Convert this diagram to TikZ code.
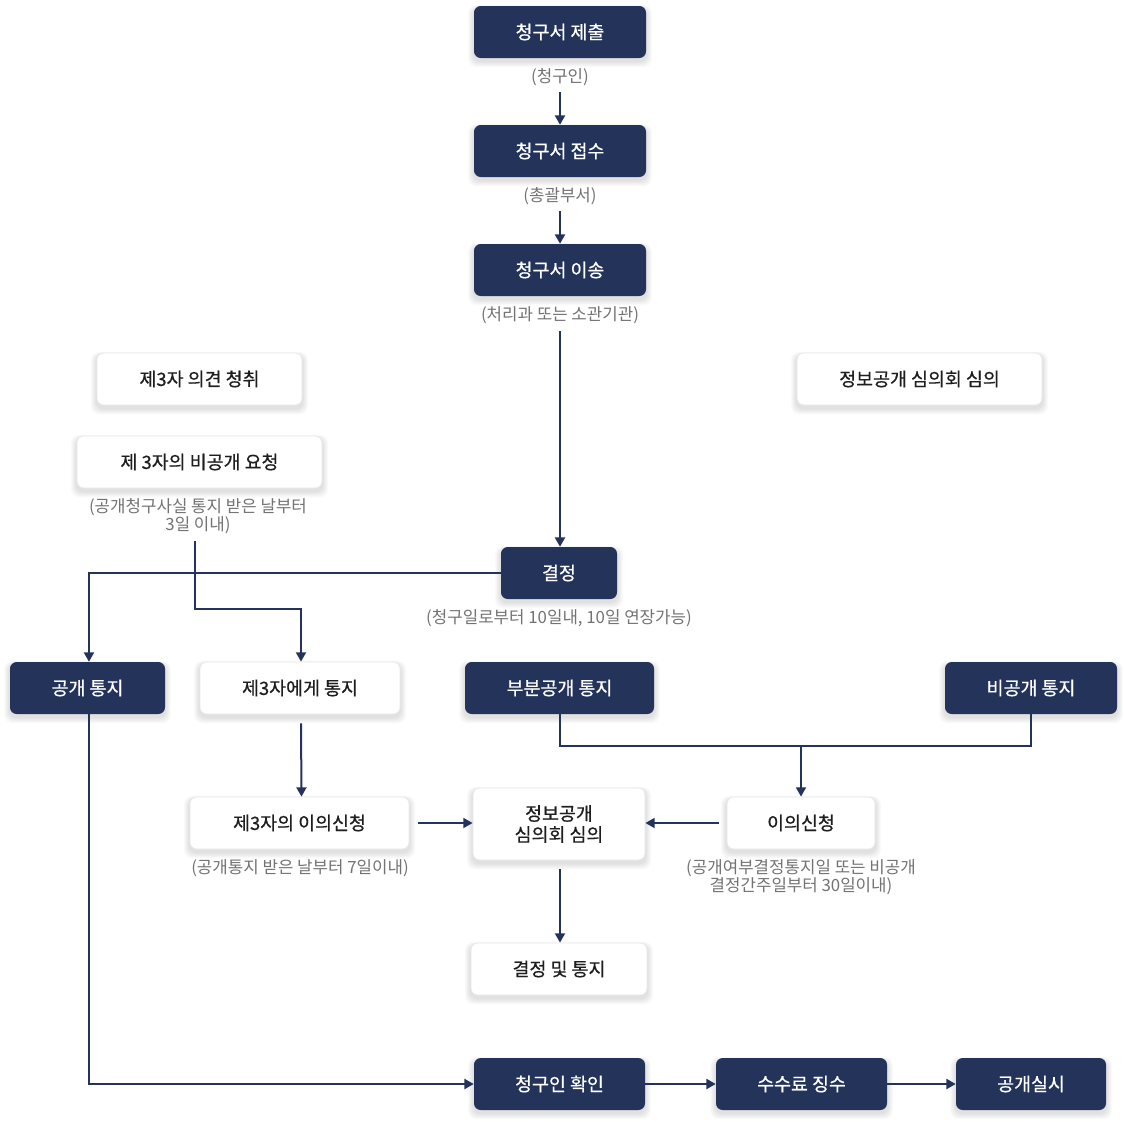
\documentclass[tikz,border=0pt]{standalone}
\usepackage{fontspec}
\setmainfont{Noto Sans CJK KR}
\newfontfamily\medfont{Noto Sans CJK KR}[FakeBold=0.5]
\usetikzlibrary{arrows.meta,calc,backgrounds}
\definecolor{navy}{RGB}{35,51,90}
\definecolor{lbl}{RGB}{115,115,115}
\definecolor{bord}{RGB}{232,232,232}
\definecolor{txt}{RGB}{30,30,30}
\tikzset{
  boxbase/.style={rectangle, rounded corners=5pt, inner sep=0pt, minimum height={52*0.75pt},
    font=\medfont\fontsize{13.8pt}{16pt}\selectfont, align=center},
  dark/.style={boxbase, fill=navy, text=white},
  light/.style={boxbase, fill=white, draw=bord, line width=0.6pt, text=txt},
  note/.style={inner sep=0pt, text=lbl, font=\fontsize{12.6pt}{12.75pt}\selectfont, align=center},
  arr/.style={draw=navy, line width=1.5pt, -{Triangle[width=7.5pt,length=7pt]}},
  ln/.style={draw=navy, line width=1.5pt},
  shad/.style={fill=black, opacity=0.019, rounded corners=6pt},
}
\begin{document}
\begin{tikzpicture}[x=0.75pt,y=-0.75pt]
\useasboundingbox (0,0) rectangle (1127,1125);
% nodes
\node[dark, minimum width={172*0.75pt}] (sub) at (560,32) {청구서 제출};
\node[note] (l1) at (560,77) {(청구인)};
\node[dark, minimum width={172*0.75pt}] (recv) at (560,151) {청구서 접수};
\node[note] (l2) at (560,196) {(총괄부서)};
\node[dark, minimum width={172*0.75pt}] (xfer) at (560,270) {청구서 이송};
\node[note] (l3) at (560,315) {(처리과 또는 소관기관)};
\node[light, minimum width={205*0.75pt}] (opin) at (199.5,379) {제3자 의견 청취};
\node[light, minimum width={245*0.75pt}] (req) at (199.5,462) {제 3자의 비공개 요청};
\node[note] (l5) at (198,516) {(공개청구사실 통지 받은 날부터\\3일 이내)};
\node[light, minimum width={245*0.75pt}] (rev) at (919.5,379) {정보공개 심의회 심의};
\node[dark, minimum width={116*0.75pt}] (dec) at (559,573) {결정};
\node[note] (l4) at (559,618) {(청구일로부터 10일내, 10일 연장가능)};
\node[dark, minimum width={155*0.75pt}] (open) at (87.5,688) {공개 통지};
\node[light, minimum width={200*0.75pt}] (third) at (300,688) {제3자에게 통지};
\node[dark, minimum width={189*0.75pt}] (part) at (559.5,688) {부분공개 통지};
\node[dark, minimum width={172*0.75pt}] (closed) at (1031,688) {비공개 통지};
\node[light, minimum width={219*0.75pt}] (tobj) at (299.5,823) {제3자의 이의신청};
\node[note] (l6) at (300,868) {(공개통지 받은 날부터 7일이내)};
\node[light, minimum width={172*0.75pt}, minimum height={72*0.75pt}, font=\medfont\fontsize{13.8pt}{15.75pt}\selectfont] (comm) at (559,824) {정보공개\\심의회 심의};
\node[light, minimum width={148*0.75pt}] (obj) at (801,823) {이의신청};
\node[note] (l7) at (801,877) {(공개여부결정통지일 또는 비공개\\결정간주일부터 30일이내)};
\node[light, minimum width={176*0.75pt}] (final) at (559,969) {결정 및 통지};
\node[dark, minimum width={171*0.75pt}] (conf) at (559.5,1084) {청구인 확인};
\node[dark, minimum width={171*0.75pt}] (fee) at (801.5,1084) {수수료 징수};
\node[dark, minimum width={150*0.75pt}] (exec) at (1031,1084) {공개실시};
\coordinate (jn) at (801,746);
% background and soft shadows
\begin{scope}[on background layer]
\fill[white] (0,0) rectangle (1127,1125);
\foreach \n in {sub,recv,xfer,opin,req,rev,dec,open,third,part,closed,tobj,comm,obj,final,conf,fee,exec}{
  \foreach \k in {1,...,6}{
    \fill[shad] ([shift={(-\k*0.7pt,-2.2pt-\k*0.75pt)}]\n.south west) rectangle ([shift={(\k*0.7pt,-2.2pt+\k*0.45pt)}]\n.north east);
  }
}
\end{scope}
% connectors
\draw[arr] ([yshift=-4.5pt]l1.south) -- (recv.north);
\draw[arr] ([yshift=-4.5pt]l2.south) -- (recv.north |- xfer.north);
\draw[arr] ([yshift=-5.5pt]l3.south) -- (l3.south |- dec.north);
\draw[arr] (dec.west) -| ([xshift=1.1pt]open.north);
\draw[arr] ([shift={(-3,7)}]l5.south) |- ($(third.north)+(1,-53)$) -- ([xshift=0.75pt]third.north);
\draw[arr] ([shift={(1,9)}]third.south) -- ([xshift=1.5pt]tobj.north);
\draw[ln] (part.south) |- (jn) -| (closed.south);
\draw[arr] (jn) -- (obj.north);
\draw[arr] ([xshift=6.75pt]tobj.east) -- (tobj.east -| comm.west);
\draw[arr] ([xshift=-6pt]obj.west) -- (obj.west -| comm.east);
\draw[arr] ([shift={(1,9)}]comm.south) -- ([xshift=0.75pt]final.north);
\draw[arr] ([xshift=1.1pt]open.south) |- (conf.west);
\draw[arr] (conf.east) -- (fee.west);
\draw[arr] (fee.east) -- (exec.west);
\end{tikzpicture}
\end{document}
